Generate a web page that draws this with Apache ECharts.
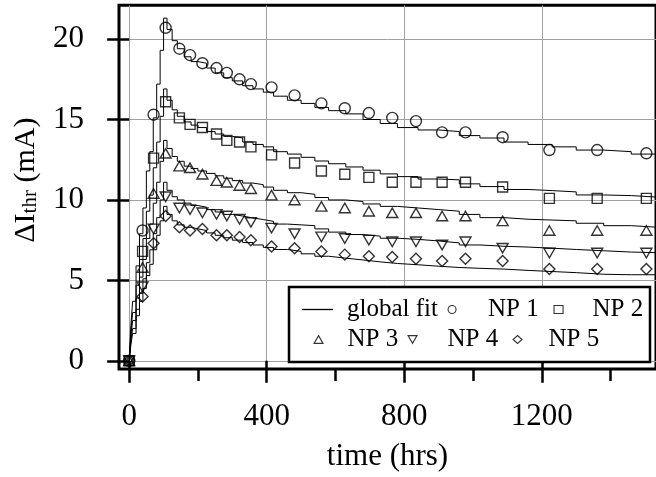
<!DOCTYPE html>
<html>
<head>
<meta charset="utf-8">
<script src="https://cdn.jsdelivr.net/npm/echarts@6/dist/echarts.min.js"></script>
<style>
  * { margin: 0; padding: 0; }
  body { background: #fff; }
  #chart { width: 656px; height: 477px; }
</style>
</head>
<body>
<div id="chart"></div>
<script>
// measured points (hrs, mA)
var hours = [0, 39, 71, 106, 146, 177, 213, 254, 284, 321, 354, 414, 481, 559, 627, 697, 765, 834, 910, 978, 1086, 1222, 1361, 1504];
var np1 = [0, 8.1, 15.3, 20.7, 19.4, 19.0, 18.5, 18.2, 17.9, 17.5, 17.2, 17.0, 16.5, 16.0, 15.7, 15.4, 15.1, 14.9, 14.2, 14.2, 13.9, 13.1, 13.1, 12.9];
var np2 = [0, 6.8, 12.6, 16.1, 15.1, 14.7, 14.5, 14.1, 13.7, 13.6, 13.3, 12.8, 12.3, 11.8, 11.6, 11.4, 11.1, 11.1, 11.1, 11.1, 10.8, 10.1, 10.1, 10.1];
var np3 = [0, 5.8, 10.4, 12.9, 12.1, 12.0, 11.6, 11.2, 11.1, 10.9, 10.7, 10.3, 10.0, 9.6, 9.5, 9.3, 9.2, 9.2, 9.0, 9.0, 8.7, 8.1, 8.1, 8.1];
var np4 = [0, 4.6, 8.2, 10.2, 9.5, 9.4, 9.2, 9.1, 9.0, 8.8, 8.6, 8.25, 7.9, 7.7, 7.6, 7.5, 7.4, 7.4, 7.2, 7.4, 7.0, 6.7, 6.7, 6.7];
var np5 = [0, 4.0, 7.3, 9.0, 8.3, 8.1, 8.2, 7.8, 7.8, 7.7, 7.5, 7.1, 7.0, 6.8, 6.6, 6.5, 6.45, 6.35, 6.2, 6.35, 6.2, 5.7, 5.7, 5.7];

// global fit (stepped)
var fitHours = [0, 5, 10, 20, 30, 40, 50, 60, 70, 80, 90, 100, 110, 125, 140, 160, 180, 200, 225, 250, 275, 300, 330, 360, 390, 420, 460, 500, 540, 580, 630, 680, 730, 780, 840, 900, 960, 1020, 1090, 1160, 1230, 1300, 1380, 1460, 1540];
var fit1 = [0, 2.2, 3.7, 5.9, 7.9, 9.5, 11.8, 13.0, 15.1, 17.2, 19.3, 21.3, 20.6, 19.9, 19.4, 18.9, 18.6, 18.5, 18.2, 17.9, 17.6, 17.4, 17.1, 16.9, 16.7, 16.45, 16.2, 16.0, 15.75, 15.55, 15.35, 15.0, 14.75, 14.5, 14.35, 14.25, 14.0, 13.85, 13.6, 13.45, 13.3, 13.1, 13.0, 12.85, 12.8];
var fit2 = [0, 1.8, 3.0, 4.7, 6.3, 7.6, 9.3, 10.3, 12.0, 13.6, 15.2, 16.9, 16.2, 15.6, 15.2, 14.85, 14.65, 14.5, 14.25, 14.1, 13.95, 13.85, 13.6, 13.45, 13.3, 13.0, 12.85, 12.65, 12.42, 12.25, 12.05, 11.85, 11.62, 11.45, 11.3, 11.25, 11.0, 10.83, 10.65, 10.58, 10.5, 10.31, 10.27, 10.17, 10.1];
var fit3 = [0, 1.5, 2.5, 3.9, 5.2, 6.3, 7.6, 8.5, 9.8, 11.1, 12.4, 13.7, 13.2, 12.7, 12.4, 12.1, 11.95, 11.8, 11.65, 11.5, 11.35, 11.2, 11.05, 10.95, 10.8, 10.6, 10.45, 10.35, 10.15, 10.0, 9.9, 9.75, 9.6, 9.5, 9.4, 9.3, 9.1, 8.9, 8.8, 8.75, 8.7, 8.55, 8.4, 8.3, 8.25];
var fit4 = [0, 1.2, 2.0, 3.2, 4.2, 5.1, 6.1, 6.9, 7.9, 8.9, 10.0, 11.1, 10.6, 10.2, 10.0, 9.8, 9.65, 9.55, 9.4, 9.25, 9.1, 9.0, 8.88, 8.78, 8.67, 8.5, 8.45, 8.4, 8.2, 8.0, 7.85, 7.75, 7.62, 7.55, 7.45, 7.33, 7.2, 7.12, 7.07, 7.0, 6.92, 6.84, 6.76, 6.72, 6.7];
var fit5 = [0, 1.0, 1.7, 2.8, 3.7, 4.5, 5.3, 6.0, 6.9, 7.8, 8.7, 9.6, 9.1, 8.7, 8.45, 8.3, 8.2, 8.1, 7.95, 7.8, 7.65, 7.5, 7.35, 7.2, 7.05, 6.92, 6.8, 6.65, 6.5, 6.38, 6.27, 6.15, 6.05, 5.97, 5.88, 5.8, 5.75, 5.7, 5.62, 5.55, 5.48, 5.38, 5.35, 5.35, 5.35];

var xMajorTicks = [0, 400, 800, 1200];
var xMinorTicks = [200, 600, 1000, 1400];
var yTicks = [0, 5, 10, 15, 20];

var FONT = 'Liberation Serif';

function pairs(xs, ys) {
  return xs.map(function (x, i) { return [x, ys[i]]; });
}

function fitSeries(ys) {
  return {
    name: 'global fit', type: 'line', step: 'end', symbol: 'none', showSymbol: false,
    data: pairs(fitHours, ys),
    lineStyle: { color: '#000', width: 1 },
    itemStyle: { color: '#000' },
    z: 2
  };
}

function pointSeries(name, ys, symbol, size) {
  return {
    name: name, type: 'scatter', symbol: symbol, symbolSize: size, symbolKeepAspect: true,
    data: pairs(hours, ys),
    itemStyle: { color: 'rgba(0,0,0,0)', borderColor: '#000', borderWidth: 1.4 },
    z: 3
  };
}

function legendItem(name, left, top, w, pad) {
  return {
    data: [name], left: left, top: top, padding: 0,
    itemWidth: w, itemHeight: 8, selectedMode: false,
    formatter: '{t|{name}}',
    itemStyle: { borderWidth: 1.1 },
    textStyle: { rich: { t: { fontFamily: FONT, fontSize: 25, color: '#000', padding: [0, 0, 0, pad] } } }
  };
}

var fitLegend = legendItem('global fit', 302, 297, 31, 9);
fitLegend.icon = 'rect';
fitLegend.itemHeight = 1.3;
fitLegend.itemStyle = { color: '#000', borderWidth: 0 };

var chart = echarts.init(document.getElementById('chart'));
chart.setOption({
  animation: false,
  grid: { left: 119, top: 5.3, right: -7, bottom: 106, show: true, borderColor: '#000', borderWidth: 3, backgroundColor: 'transparent' },
  graphic: [{
    type: 'rect', z: 3,
    shape: { x: 289, y: 287, width: 361, height: 75 },
    style: { fill: '#fff', stroke: '#000', lineWidth: 2.5 }
  }],
  legend: [
    fitLegend,
    legendItem('NP 1', 447.5, 297, 9, 26.5),
    legendItem('NP 2', 553.5, 297, 9, 24.5),
    legendItem('NP 3', 313.5, 327, 9, 19.5),
    legendItem('NP 4', 407.5, 327, 9, 25.5),
    legendItem('NP 5', 512.5, 327, 9, 21.5)
  ],
  xAxis: [{
    type: 'value', min: -29.6, max: 1532,
    name: 'time (hrs)', nameLocation: 'middle', nameGap: 72,
    nameTextStyle: { fontFamily: FONT, fontSize: 31, color: '#000' },
    axisLine: { show: false },
    axisTick: { show: true, inside: false, length: 22, lineStyle: { color: '#000', width: 2.5 }, customValues: xMajorTicks },
    axisLabel: {
      fontFamily: FONT, fontSize: 31, color: '#000', margin: 32, customValues: xMajorTicks,
      formatter: function (v) { return String(v); }
    },
    splitLine: { show: true, lineStyle: { color: '#a0a0a0', width: 1 } }
  }, {
    type: 'value', min: -29.6, max: 1532, position: 'bottom',
    axisLine: { show: false },
    axisTick: { show: true, length: 12, lineStyle: { color: '#000', width: 2.5 }, customValues: xMinorTicks },
    axisLabel: { show: false },
    splitLine: { show: false }
  }],
  yAxis: {
    type: 'value', min: -0.51, max: 22.1,
    name: '{m|ΔI}{s|thr}{m| (mA)}', nameLocation: 'middle', nameRotate: 90, nameGap: 78,
    nameTextStyle: {
      padding: [0, 0, 0, 14],
      rich: {
        m: { fontFamily: FONT, fontSize: 30, color: '#000', lineHeight: 30 },
        s: { fontFamily: FONT, fontSize: 21, color: '#000', lineHeight: 14, verticalAlign: 'bottom' }
      }
    },
    axisLine: { show: false },
    axisTick: { show: true, length: 22, lineStyle: { color: '#000', width: 2.5 }, customValues: yTicks },
    axisLabel: { fontFamily: FONT, fontSize: 31, color: '#000', margin: 35, customValues: yTicks },
    splitLine: { show: true, lineStyle: { color: '#a0a0a0', width: 1 } }
  },
  series: [
    fitSeries(fit1), fitSeries(fit2), fitSeries(fit3), fitSeries(fit4), fitSeries(fit5),
    pointSeries('NP 1', np1, 'circle', 11),
    pointSeries('NP 2', np2, 'rect', 10),
    pointSeries('NP 3', np3, 'path://M5,0L10,8.66L0,8.66Z', 11),
    pointSeries('NP 4', np4, 'path://M0,0L10,0L5,8.66Z', 11),
    pointSeries('NP 5', np5, 'diamond', 11)
  ]
});
</script>
</body>
</html>
